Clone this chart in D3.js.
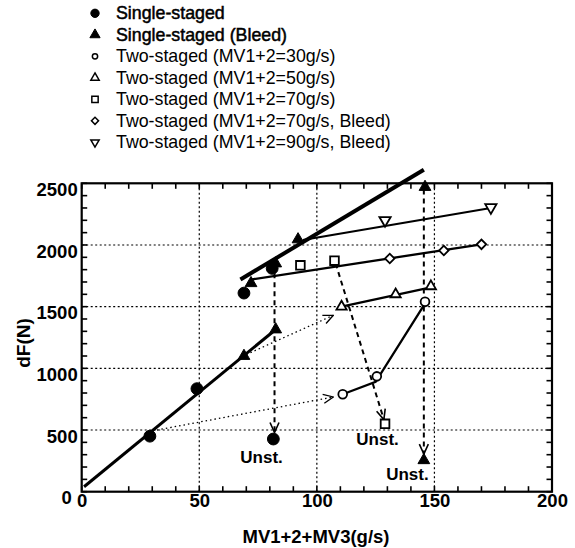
<!DOCTYPE html>
<html><head><meta charset="utf-8">
<script src="https://cdn.jsdelivr.net/npm/d3@7/dist/d3.min.js"></script>
<style>body{margin:0;background:#fff}svg{display:block}text{font-family:"Liberation Sans",Arial,sans-serif}</style>
</head><body>
<svg id="c" width="575" height="548"></svg>
<script>
// ---- data ----
const xTicks = [0, 50, 100, 150, 200];
const yTicks = [0, 500, 1000, 1500, 2000, 2500];
const xMinor = d3.range(0, 201, 10);
const yMinor = d3.range(0, 2501, 100);
const gridX = [50, 100, 150];
const gridY = [500, 1000, 1500, 2000];

const legendLabels = [
  "Single-staged",
  "Single-staged (Bleed)",
  "Two-staged (MV1+2=30g/s)",
  "Two-staged (MV1+2=50g/s)",
  "Two-staged (MV1+2=70g/s)",
  "Two-staged (MV1+2=70g/s, Bleed)",
  "Two-staged (MV1+2=90g/s, Bleed)"
];

// markers
const singleX = [29, 49, 69, 81, 81.5];
const singleY = [450, 835, 1610, 1810, 427];
const singleBleedX = [69, 82.5, 72, 82.5, 92, 146, 145.5];
const singleBleedY = [1100, 1315, 1690, 1850, 2045, 2470, 255];
const two30X = [111, 125.5, 146];
const two30Y = [790, 935, 1540];
const two50X = [110.5, 133.5, 148.5];
const two50Y = [1500, 1600, 1665];
const two70X = [93, 107.5, 129];
const two70Y = [1835, 1873, 550];
const two70BX = [131, 154, 170];
const two70BY = [1890, 1955, 2005];
const two90BX = [129, 174];
const two90BY = [2200, 2305];

// connecting lines
const singleLineX = [1, 82.5],      singleLineY = [40, 1315];
const bleedLineX = [67.5, 145.5],   bleedLineY = [1720, 2610];
const two30DotX = [32, 107],        two30DotY = [500, 768];
const two30LineX = [111, 125, 145.5], two30LineY = [790, 890, 1510];
const two50DotX = [70, 107],        two50DotY = [1112, 1430];
const two50LineX = [110.5, 148],    two50LineY = [1500, 1655];
const two70DashX = [108, 128.5],    two70DashY = [1850, 585];
const two70BLineX = [72, 170],      two70BLineY = [1720, 2005];
const two90BLineX = [94, 174],      two90BLineY = [2040, 2300];
const drop1X = [82, 82],            drop1Y = [1770, 480];
const drop2X = [145.5, 145.5],      drop2Y = [2450, 305];

const unstX = [76.5, 125.8, 138.5];
const unstY = [233, 379, 95];

// ---- drawing ----
const svg = d3.select("#c");
const x = d3.scaleLinear().domain([0, 200]).range([81.7, 552]);
const y = d3.scaleLinear().domain([0, 2500]).range([491.7, 183.3]);
const zip = (a, b) => a.map((v, i) => [v, b[i]]);
const line = d3.line().x(d => x(d[0])).y(d => y(d[1]));
const FONT = '"Liberation Sans",Arial,sans-serif';

const defs = svg.append("defs");
function arrow(id, w) {
  defs.append("marker").attr("id", id).attr("markerUnits", "userSpaceOnUse")
    .attr("viewBox", "0 0 12 12").attr("refX", 11).attr("refY", 6)
    .attr("markerWidth", 12).attr("markerHeight", 12).attr("orient", "auto")
    .append("path").attr("d", "M1,1.5 L11,6 L1,10.5").attr("fill", "none")
    .attr("stroke", "#000").attr("stroke-width", w);
}
arrow("arrDot", 1.3);
arrow("arrDash", 1.6);

// grid
svg.append("g").selectAll("line").data(gridX).join("line")
  .attr("x1", d => x(d)).attr("x2", d => x(d)).attr("y1", y(0)).attr("y2", y(2500))
  .attr("stroke", "#000").attr("stroke-width", 1.2).attr("stroke-dasharray", "2,2.5");
svg.append("g").selectAll("line").data(gridY).join("line")
  .attr("y1", d => y(d)).attr("y2", d => y(d)).attr("x1", x(0)).attr("x2", x(200))
  .attr("stroke", "#000").attr("stroke-width", 1.2).attr("stroke-dasharray", "2,2.5");

// frame
svg.append("rect").attr("x", x(0)).attr("y", y(2500))
  .attr("width", x(200) - x(0)).attr("height", y(0) - y(2500))
  .attr("fill", "none").attr("stroke", "#000").attr("stroke-width", 2.2);

// minor inward ticks
const tk = 5.5;
const tg = svg.append("g").attr("stroke", "#000").attr("stroke-width", 1.6);
xMinor.forEach(v => {
  tg.append("line").attr("x1", x(v)).attr("x2", x(v)).attr("y1", y(0)).attr("y2", y(0) - tk);
  tg.append("line").attr("x1", x(v)).attr("x2", x(v)).attr("y1", y(2500)).attr("y2", y(2500) + tk);
});
yMinor.forEach(v => {
  tg.append("line").attr("y1", y(v)).attr("y2", y(v)).attr("x1", x(0)).attr("x2", x(0) + tk);
  tg.append("line").attr("y1", y(v)).attr("y2", y(v)).attr("x1", x(200)).attr("x2", x(200) - tk);
});

// labelled axes
const xa = svg.append("g").attr("transform", `translate(0,${y(0)})`)
  .call(d3.axisBottom(x).tickValues(xTicks).tickFormat(d3.format("d")).tickSize(0).tickPadding(2));
const ya = svg.append("g").attr("transform", `translate(${x(0)},0)`)
  .call(d3.axisLeft(y).tickValues(yTicks).tickFormat(d3.format("d")).tickSize(0).tickPadding(4));
[xa, ya].forEach(a => {
  a.select(".domain").remove();
  a.selectAll("text").attr("font-size", 18.5).attr("font-weight", "bold")
    .attr("fill", "#000").style("font-family", FONT);
});
ya.selectAll("text").attr("dy", "0.66em");
ya.selectAll(".tick").filter(d => d === 0).select("text").attr("dx", "-6");

// axis titles
svg.append("text").attr("x", 316).attr("y", 543).attr("text-anchor", "middle")
  .attr("font-size", 18.5).attr("font-weight", "bold").text("MV1+2+MV3(g/s)");
svg.append("text").attr("transform", "translate(30,343) rotate(-90)")
  .attr("text-anchor", "middle").attr("font-size", 19).attr("font-weight", "bold").text("dF(N)");

// lines
const L = svg.append("g").attr("fill", "none").attr("stroke", "#000");
L.append("path").attr("d", line(zip(singleLineX, singleLineY))).attr("stroke-width", 3);
L.append("path").attr("d", line(zip(bleedLineX, bleedLineY))).attr("stroke-width", 4);
L.append("path").attr("d", line(zip(two30LineX, two30LineY))).attr("stroke-width", 2.3);
L.append("path").attr("d", line(zip(two50LineX, two50LineY))).attr("stroke-width", 2.3);
L.append("path").attr("d", line(zip(two70BLineX, two70BLineY))).attr("stroke-width", 2.3);
L.append("path").attr("d", line(zip(two90BLineX, two90BLineY))).attr("stroke-width", 2);
[[two30DotX, two30DotY], [two50DotX, two50DotY]].forEach(([a, b]) =>
  L.append("path").attr("d", line(zip(a, b))).attr("stroke-width", 1.3)
    .attr("stroke-dasharray", "1.5,3").attr("marker-end", "url(#arrDot)"));
[[two70DashX, two70DashY], [drop1X, drop1Y], [drop2X, drop2Y]].forEach(([a, b]) =>
  L.append("path").attr("d", line(zip(a, b))).attr("stroke-width", 2)
    .attr("stroke-dasharray", "5,4").attr("marker-end", "url(#arrDash)"));

// markers
const sym = (type, size) => d3.symbol().type(type).size(size)();
function pts(xs, ys, type, size, filled, rot, sw) {
  svg.append("g").selectAll("path").data(zip(xs, ys)).join("path")
    .attr("d", sym(type, size))
    .attr("transform", d => `translate(${x(d[0])},${y(d[1])}) rotate(${rot})`)
    .attr("fill", filled ? "#000" : "#fff").attr("stroke", "#000")
    .attr("stroke-width", sw);
}
pts(singleX, singleY, d3.symbolCircle, 110, true, 0, 1);
pts(singleBleedX, singleBleedY, d3.symbolTriangle, 60, true, 0, 1);
pts(two30X, two30Y, d3.symbolCircle, 60, false, 0, 1.8);
pts(two50X, two50Y, d3.symbolTriangle, 45, false, 0, 1.8);
pts(two70X, two70Y, d3.symbolSquare, 75, false, 0, 1.8);
pts(two70BX, two70BY, d3.symbolSquare, 45, false, 45, 1.8);
pts(two90BX, two90BY, d3.symbolTriangle, 55, false, 180, 1.8);

// annotations
svg.append("g").selectAll("text").data(zip(unstX, unstY)).join("text")
  .attr("x", d => x(d[0])).attr("y", d => y(d[1])).attr("text-anchor", "middle")
  .attr("font-size", 17).attr("font-weight", "bold").text("Unst.");

// legend
const legTypes = [d3.symbolCircle, d3.symbolTriangle, d3.symbolCircle, d3.symbolTriangle,
                  d3.symbolSquare, d3.symbolSquare, d3.symbolTriangle];
const legSizes = [55, 45, 22, 30, 40, 25, 30];
const legFill = [true, true, false, false, false, false, false];
const legRot = [0, 0, 0, 0, 0, 45, 180];
const lg = svg.append("g").selectAll("g").data(legendLabels).join("g")
  .attr("transform", (d, i) => `translate(0,${19.3 + i * 21.5})`);
lg.append("path").attr("d", (d, i) => sym(legTypes[i], legSizes[i]))
  .attr("transform", (d, i) => `translate(95,-6) rotate(${legRot[i]})`)
  .attr("fill", (d, i) => legFill[i] ? "#000" : "#fff").attr("stroke", "#000")
  .attr("stroke-width", (d, i) => legFill[i] ? 1 : 1.5);
lg.append("text").attr("x", 116).attr("y", 0).attr("font-size", 17.8)
  .attr("fill", "#000").attr("stroke", (d, i) => i < 2 ? "#000" : "none")
  .attr("stroke-width", 0.5).text(d => d);
</script>
</body></html>
